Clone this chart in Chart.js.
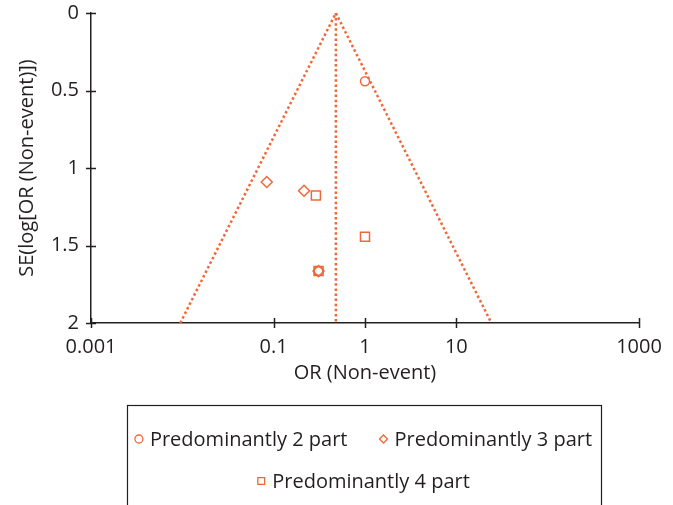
<!DOCTYPE html>
<html>
<head>
<meta charset="utf-8">
<script src="https://cdn.jsdelivr.net/npm/chart.js@4/dist/chart.umd.min.js"></script>
<style>
    html, body { margin: 0; padding: 0; background: #fff; }
    #wrap { width: 673px; height: 505px; position: relative; }
</style>
</head>
<body>
<div id="wrap"><canvas id="funnelChart"></canvas></div>
<script>
// data
const seriesNames = ['Predominantly 2 part', 'Predominantly 3 part', 'Predominantly 4 part'];
const seriesShapes = ['circle', 'rectRot', 'rect'];

const part2OR = [1.0, 0.31];
const part2SE = [0.44, 1.665];
const part3OR = [0.084, 0.215, 0.31];
const part3SE = [1.09, 1.147, 1.665];
const part4OR = [0.29, 1.0, 0.31];
const part4SE = [1.177, 1.444, 1.665];

// funnel: pooled OR at apex, 95% limits at SE = 2
const funnelOR = [0.0095, 0.48, 24.2];
const funnelSE = [2, 0, 2];
const pooledOR = [0.48, 0.48];
const pooledSE = [0, 2];

const xTicks = [0.001, 0.1, 1, 10, 1000];
const yTicks = [0, 0.5, 1, 1.5, 2];

const ORANGE = '#ef683a';
const INK = '#231f20';
const FONT = '"Open Sans", "Noto Sans", sans-serif';

function toPoints(xs, ys) {
    return xs.map((x, i) => ({ x: x, y: ys[i] }));
}

function markerSet(i, xs, ys, radius) {
    return {
        label: seriesNames[i],
        data: toPoints(xs, ys),
        showLine: false,
        pointStyle: seriesShapes[i],
        pointRadius: radius,
        pointBorderWidth: 1.5,
        pointBorderColor: ORANGE,
        pointBackgroundColor: 'rgba(0,0,0,0)',
        order: 1
    };
}

function lineSet(xs, ys) {
    return {
        label: '',
        data: toPoints(xs, ys),
        showLine: true,
        borderColor: ORANGE,
        borderWidth: 2.5,
        borderDash: [2.5, 2.6],
        pointRadius: 0,
        fill: false,
        order: 2
    };
}

// ticks crossing the axis lines on both sides
const crossTicks = {
    id: 'crossTicks',
    afterDraw(chart) {
        const { ctx, chartArea } = chart;
        const x = chart.scales.x;
        const y = chart.scales.y;
        ctx.save();
        ctx.strokeStyle = INK;
        ctx.lineWidth = 1.5;
        ctx.beginPath();
        x.ticks.forEach((t) => {
            const px = Math.round(x.getPixelForValue(t.value)) + 0.5;
            ctx.moveTo(px, chartArea.bottom - 5);
            ctx.lineTo(px, chartArea.bottom + 5);
        });
        y.ticks.forEach((t) => {
            const py = Math.round(y.getPixelForValue(t.value)) + 0.5;
            ctx.moveTo(chartArea.left - 5, py);
            ctx.lineTo(chartArea.left + 5, py);
        });
        ctx.stroke();
        ctx.restore();
    }
};

function drawShape(ctx, shape, cx, cy, r) {
    ctx.beginPath();
    if (shape === 'circle') {
        ctx.arc(cx, cy, r, 0, Math.PI * 2);
    } else if (shape === 'rectRot') {
        ctx.moveTo(cx - r, cy);
        ctx.lineTo(cx, cy - r);
        ctx.lineTo(cx + r, cy);
        ctx.lineTo(cx, cy + r);
        ctx.closePath();
    } else {
        ctx.rect(cx - r * 0.85, cy - r * 0.85, r * 1.7, r * 1.7);
    }
    ctx.stroke();
}

// boxed legend under the plot, two items then one
const boxedLegend = {
    id: 'boxedLegend',
    afterDraw(chart) {
        const ctx = chart.ctx;
        const box = { left: 127, top: 405, right: 601, bottom: 520 };
        const centre = (box.left + box.right) / 2;
        const rows = [[0, 1], [2]];
        const rowY = [439, 481];
        const markW = 10;
        const markGap = 6;
        const itemGap = 31;
        ctx.save();
        ctx.strokeStyle = INK;
        ctx.lineWidth = 1.2;
        ctx.strokeRect(box.left + 0.5, box.top + 0.5, box.right - box.left, box.bottom - box.top);
        ctx.font = '20px ' + FONT;
        ctx.textBaseline = 'middle';
        ctx.textAlign = 'left';
        rows.forEach((row, r) => {
            const widths = row.map((i) => markW + markGap + ctx.measureText(seriesNames[i]).width);
            const total = widths.reduce((a, b) => a + b, 0) + itemGap * (row.length - 1);
            let x = centre - total / 2 - 1;
            row.forEach((i, k) => {
                ctx.strokeStyle = ORANGE;
                ctx.lineWidth = 1.3;
                drawShape(ctx, seriesShapes[i], x + markW / 2, rowY[r], 4);
                ctx.fillStyle = INK;
                ctx.fillText(seriesNames[i], x + markW + markGap, rowY[r] + 1);
                x += widths[k] + itemGap;
            });
        });
        ctx.restore();
    }
};

// invisible grid ticks, only there to push the labels off the axis
const spacerGrid = {
    display: true,
    drawOnChartArea: false,
    drawTicks: true,
    tickLength: 11,
    color: 'rgba(0,0,0,0)'
};

new Chart(document.getElementById('funnelChart'), {
    type: 'scatter',
    data: {
        datasets: [
            markerSet(0, part2OR, part2SE, 4.5),
            markerSet(1, part3OR, part3SE, 5.5),
            markerSet(2, part4OR, part4SE, 6.4),
            lineSet(funnelOR, funnelSE),
            lineSet(pooledOR, pooledSE)
        ]
    },
    options: {
        responsive: true,
        maintainAspectRatio: false,
        animation: false,
        layout: { padding: { left: 5, right: 34, top: 7, bottom: 122 } },
        plugins: {
            legend: { display: false },
            tooltip: { enabled: false }
        },
        scales: {
            x: {
                type: 'logarithmic',
                min: 0.001,
                max: 1000,
                afterBuildTicks(scale) {
                    scale.ticks = xTicks.map((v) => ({ value: v }));
                },
                grid: spacerGrid,
                border: { display: true, color: INK, width: 1.5 },
                ticks: {
                    color: INK,
                    font: { family: FONT, size: 20 },
                    padding: 1,
                    maxRotation: 0,
                    autoSkip: false,
                    callback: (v) => String(v)
                },
                title: {
                    display: true,
                    text: 'OR (Non-event)',
                    color: INK,
                    font: { family: FONT, size: 20, lineHeight: 1.0 },
                    padding: { top: 3, bottom: 0 }
                }
            },
            y: {
                type: 'linear',
                reverse: true,
                min: 0,
                max: 2,
                afterBuildTicks(scale) {
                    scale.ticks = yTicks.map((v) => ({ value: v }));
                },
                afterFit(scale) {
                    scale.width = 86;
                },
                grid: spacerGrid,
                border: { display: true, color: INK, width: 1.5 },
                ticks: {
                    color: INK,
                    font: { family: FONT, size: 20 },
                    padding: 1,
                    callback: (v) => String(v)
                },
                title: {
                    display: true,
                    text: 'SE(log[OR (Non-event)])',
                    color: INK,
                    font: { family: FONT, size: 20, lineHeight: 1.0 },
                    padding: { top: 12, bottom: 2 }
                }
            }
        }
    },
    plugins: [crossTicks, boxedLegend]
});
</script>
</body>
</html>
